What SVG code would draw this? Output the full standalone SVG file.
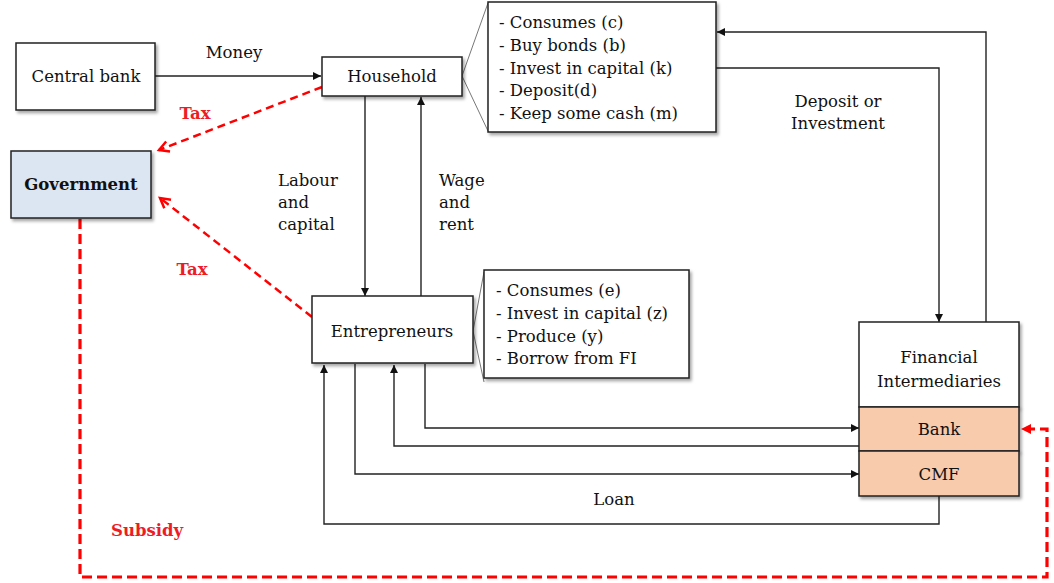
<svg xmlns="http://www.w3.org/2000/svg" width="1054" height="583" viewBox="0 0 1054 583">
<style>
  text { font-family: "DejaVu Serif", "Liberation Serif", serif; font-size: 16.5px; fill: #111; }
  .c { text-anchor: middle; }
  .b { font-weight: bold; }
  .red { fill: #ee1c25; font-weight: bold; }
  .box { fill: #fff; stroke: #222; stroke-width: 1.5; filter: url(#sh); }
  .gov { fill: #dce6f2; }
  .fi { fill: #f8cbad; }
  .conn { fill: none; stroke: #222; stroke-width: 1.4; }
  .wedge { fill: none; stroke: #777; stroke-width: 1; }
  .tax { fill: none; stroke: #ff0000; stroke-width: 2.5; stroke-dasharray: 8 5; }
  .sub { fill: none; stroke: #ff0000; stroke-width: 3.2; stroke-dasharray: 10 5; }
</style>
<defs>
  <filter id="sh" x="-10%" y="-10%" width="130%" height="140%">
    <feDropShadow dx="2" dy="2.5" stdDeviation="1.5" flood-color="#000" flood-opacity="0.35"/>
  </filter>
  <marker id="ah" viewBox="0 0 10 10" refX="10" refY="5" markerWidth="9" markerHeight="8" markerUnits="userSpaceOnUse" orient="auto">
    <path d="M0,0 L10,5 L0,10 z" fill="#111"/>
  </marker>
  <marker id="chev" viewBox="0 0 12 12" refX="10" refY="6" markerWidth="13" markerHeight="13" markerUnits="userSpaceOnUse" orient="auto" overflow="visible">
    <path d="M1,1 L10,6 L1,11" fill="none" stroke="#ff0000" stroke-width="2.3"/>
  </marker>
  <marker id="rah" viewBox="0 0 10 10" refX="10" refY="5" markerWidth="10" markerHeight="10" markerUnits="userSpaceOnUse" orient="auto">
    <path d="M0,0 L10,5 L0,10 z" fill="#ff0000"/>
  </marker>
</defs>

<g id="connectors">
  <path class="conn" d="M155,76 H321" marker-end="url(#ah)"/>
  <path class="conn" d="M365,96 V296" marker-end="url(#ah)"/>
  <path class="conn" d="M421,296 V97" marker-end="url(#ah)"/>
  <path class="conn" d="M716,68 H939 V322" marker-end="url(#ah)"/>
  <path class="conn" d="M986,322 V32 H717" marker-end="url(#ah)"/>
  <path class="conn" d="M425,364 V428 H859" marker-end="url(#ah)"/>
  <path class="conn" d="M859,446 H394 V365" marker-end="url(#ah)"/>
  <path class="conn" d="M355,364 V474 H859" marker-end="url(#ah)"/>
  <path class="conn" d="M939,496 V524 H324 V365" marker-end="url(#ah)"/>
  <path class="wedge" d="M462,76 L488,3 M462,76 L488,131"/>
  <path class="wedge" d="M473,331 L484,272 M473,331 L484,382"/>
  <path class="tax" d="M322,87 L159,150" marker-end="url(#chev)"/>
  <path class="tax" d="M312,317 L160,198" marker-end="url(#chev)"/>
  <path class="sub" d="M80,219 V577 H1047 V429 H1024"/>
  <path d="M1021,429 L1031,424 L1031,434 z" fill="#ff0000"/>
</g>

<g id="labels">
  <text class="c" x="234" y="58">Money</text>
  <text x="278" y="186">Labour</text>
  <text x="278" y="208">and</text>
  <text x="278" y="230">capital</text>
  <text x="439" y="186">Wage</text>
  <text x="439" y="208">and</text>
  <text x="439" y="230">rent</text>
  <text class="c" x="838" y="107">Deposit or</text>
  <text class="c" x="838" y="129">Investment</text>
  <text class="c" x="614" y="505">Loan</text>
  <text class="red c" x="195" y="119">Tax</text>
  <text class="red c" x="192" y="275">Tax</text>
  <text class="red" x="111" y="536">Subsidy</text>
</g>

<g id="central-bank">
  <rect class="box" x="16" y="43" width="139" height="67"/>
  <text class="c" x="86" y="82">Central bank</text>
</g>

<g id="household">
  <rect class="box" x="322" y="57" width="140" height="39"/>
  <text class="c" x="392" y="82">Household</text>
</g>

<g id="household-activities">
  <rect class="box" x="488" y="2" width="228" height="130"/>
  <text x="499" y="28">- Consumes (c)</text>
  <text x="499" y="51">- Buy bonds (b)</text>
  <text x="499" y="74">- Invest in capital (k)</text>
  <text x="499" y="96">- Deposit(d)</text>
  <text x="499" y="119">- Keep some cash (m)</text>
</g>

<g id="government">
  <rect class="box gov" x="11" y="151" width="140" height="67"/>
  <text class="c b" x="81" y="190">Government</text>
</g>

<g id="entrepreneurs">
  <rect class="box" x="312" y="296" width="161" height="67"/>
  <text class="c" x="392" y="337">Entrepreneurs</text>
</g>

<g id="entrepreneur-activities">
  <rect class="box" x="484" y="270" width="205" height="108"/>
  <text x="496" y="296">- Consumes (e)</text>
  <text x="496" y="319">- Invest in capital (z)</text>
  <text x="496" y="342">- Produce (y)</text>
  <text x="496" y="364">- Borrow from FI</text>
</g>

<g id="financial-intermediaries">
  <rect class="box" x="859" y="322" width="160" height="85"/>
  <text class="c" x="939" y="363">Financial</text>
  <text class="c" x="939" y="387">Intermediaries</text>
</g>

<g id="bank">
  <rect class="box fi" x="859" y="407" width="160" height="44"/>
  <text class="c" x="939" y="435">Bank</text>
</g>

<g id="cmf">
  <rect class="box fi" x="859" y="451" width="160" height="45"/>
  <text class="c" x="939" y="480">CMF</text>
</g>
</svg>
